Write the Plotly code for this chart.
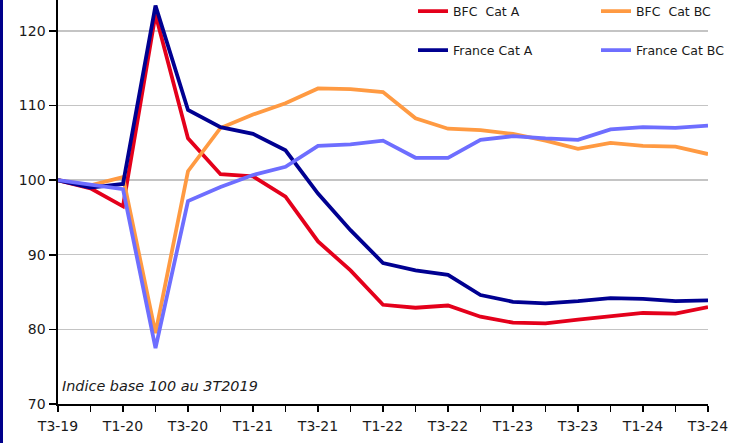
import plotly.graph_objects as go

quarters = ["T3-19", "T4-19", "T1-20", "T2-20", "T3-20", "T4-20", "T1-21", "T2-21",
            "T3-21", "T4-21", "T1-22", "T2-22", "T3-22", "T4-22", "T1-23", "T2-23",
            "T3-23", "T4-23", "T1-24", "T2-24", "T3-24"]

bfc_cat_a = [100, 98.9, 96.5, 122.2, 105.6, 100.8, 100.5, 97.8, 91.8, 87.9, 83.3,
             82.9, 83.2, 81.7, 80.9, 80.8, 81.3, 81.7, 82.2, 82.1, 83.0]
bfc_cat_bc = [100, 99.3, 100.4, 79.5, 101.2, 107.0, 108.8, 110.3, 112.3, 112.2, 111.8,
              108.3, 106.9, 106.7, 106.2, 105.3, 104.2, 105.0, 104.6, 104.5, 103.5]
france_cat_a = [100, 99.0, 99.5, 123.4, 109.4, 107.1, 106.2, 104.0, 98.2, 93.3, 88.9,
                87.9, 87.3, 84.6, 83.7, 83.5, 83.8, 84.2, 84.1, 83.8, 83.9]
france_cat_bc = [100, 99.4, 98.8, 77.5, 97.2, 99.1, 100.7, 101.8, 104.6, 104.8, 105.3,
                 103.0, 103.0, 105.4, 105.9, 105.6, 105.4, 106.8, 107.1, 107.0, 107.3]

y_ticks = [70, 80, 90, 100, 110, 120]
note = "Indice base 100 au 3T2019"

FONT = "DejaVu Sans"
TXT = "#1a1a1a"
x = list(range(len(quarters)))

fig = go.Figure()
series = [
    ("BFC  Cat A", bfc_cat_a, "#E4001B", "legend"),
    ("BFC  Cat BC", bfc_cat_bc, "#FF9A42", "legend"),
    ("France Cat A", france_cat_a, "#000091", "legend2"),
    ("France Cat BC", france_cat_bc, "#6E6EFF", "legend2"),
]
for name, vals, color, leg in series:
    fig.add_trace(go.Scatter(x=x, y=vals, mode="lines", name=name,
                             line=dict(color=color, width=3.8),
                             legend=leg, hoverinfo="skip"))

W, H = 748, 443
L, R, T, B = 58, 40, 0, 39
pw = W - L - R
ph = H - T - B

legend_common = dict(orientation="h", xanchor="left", yanchor="middle",
                     bgcolor="rgba(0,0,0,0)", borderwidth=0,
                     font=dict(family=FONT, size=12.5, color=TXT),
                     entrywidth=138, entrywidthmode="pixels",
                     itemclick=False, itemdoubleclick=False)

fig.update_layout(
    width=W, height=H,
    margin=dict(l=L, r=R, t=T, b=B, autoexpand=False),
    paper_bgcolor="white", plot_bgcolor="white",
    font=dict(family=FONT, size=14, color=TXT),
    legend=dict(x=(413 - L) / pw, y=1 - 11.5 / ph, **legend_common),
    legend2=dict(x=(413 - L) / pw, y=1 - 50.5 / ph, **legend_common),
    xaxis=dict(range=[0, len(quarters) - 1],
               tickmode="array",
               tickvals=x[::2], ticktext=quarters[::2],
               ticks="outside", ticklen=6, tickwidth=1.5, tickcolor="black",
               minor=dict(tickmode="linear", tick0=0, dtick=1, ticks="outside",
                          ticklen=6, tickwidth=1.5, tickcolor="black"),
               showline=True, linecolor="black", linewidth=1.6,
               showgrid=False, zeroline=False, automargin=False,
               tickfont=dict(family=FONT, size=14, color=TXT),
               ticklabelstandoff=3),
    yaxis=dict(range=[70, 124.15],
               tickmode="array", tickvals=y_ticks,
               ticks="outside", ticklen=7, tickwidth=1.5, tickcolor="black",
               showline=True, linecolor="black", linewidth=1.6,
               showgrid=True, gridcolor="#C4C4C4", gridwidth=1.4,
               zeroline=False, automargin=False,
               tickfont=dict(family=FONT, size=14, color=TXT),
               ticklabelstandoff=1),
    showlegend=True,
    hovermode=False,
)

fig.add_annotation(xref="paper", yref="paper", x=(60 - L) / pw, y=(ph - 386) / ph,
                   xanchor="left", yanchor="middle", showarrow=False,
                   text="<i>" + note + "</i>",
                   font=dict(family=FONT, size=14.4, color=TXT))

fig.add_shape(type="rect", xref="paper", yref="paper",
              x0=-L / pw, x1=(3 - L) / pw, y0=-B / ph, y1=1,
              fillcolor="#00008B", line=dict(width=0), layer="above")

fig.write_html("out.html",
               config={"displayModeBar": False, "staticPlot": True},
               post_script="document.body.style.margin='0px';"
                           "document.body.style.padding='0px';"
                           "document.body.style.overflow='hidden';")
